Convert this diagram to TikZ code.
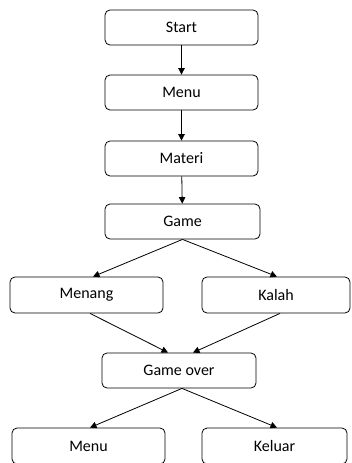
\documentclass[tikz,border=0pt]{standalone}
\usepackage{fontspec}
\setmainfont{Carlito}
\usetikzlibrary{arrows.meta}

\tikzset{
  box/.style={draw, rounded corners=5pt, line width=0.8pt, minimum width=153pt, minimum height=35pt, inner sep=0pt, font=\fontsize{16}{19}\selectfont},
}

\begin{document}
\begin{tikzpicture}[x=1pt, y=-1pt, >={Triangle[length=6.5pt, width=6.5pt]}, line width=0.8pt]
    \useasboundingbox (0,0) rectangle (351,463);
    \clip (0,0) rectangle (351,463);

    \node[box] (start)    at (181.5,27.5) {Start};
    \node[box] (menu)     at (181.5,92.5) {Menu};
    \node[box] (materi)   at (181.5,158.5) {Materi};
    \node[box, minimum width=155pt] (game)     at (182.5,221.5) {Game};
    \node[box, minimum height=36pt] (menang)   at (86.5,295) {Menang};
    \node[box, minimum width=148pt, minimum height=36pt] (kalah) at (276,295) {Kalah};
    \node[box, minimum width=154pt] (gameover) at (179,370.5) {Game over};
    \node[box, minimum height=36pt] (menu_end) at (88.5,446) {Menu};
    \node[box, minimum width=145pt, minimum height=36pt] (keluar) at (274.5,446) {Keluar};

    \draw[->] (start) -- (menu);
    \draw[->] (menu) -- (materi);
    \draw[->] (materi) -- (game);
    \draw[->] (game.south) -- ([xshift=6.5pt]menang.north);
    \draw[->] (game.south) -- ([xshift=1pt]kalah.north);
    \draw[->] ([xshift=3.5pt]menang.south) -- ([xshift=-11pt]gameover.north);
    \draw[->] ([xshift=4pt]kalah.south) -- ([xshift=14pt]gameover.north);
    \draw[->] ([xshift=3pt]gameover.south) -- ([xshift=1.5pt]menu_end.north);
    \draw[->] ([xshift=3pt]gameover.south) -- ([xshift=2.5pt]keluar.north);
\end{tikzpicture}
\end{document}
